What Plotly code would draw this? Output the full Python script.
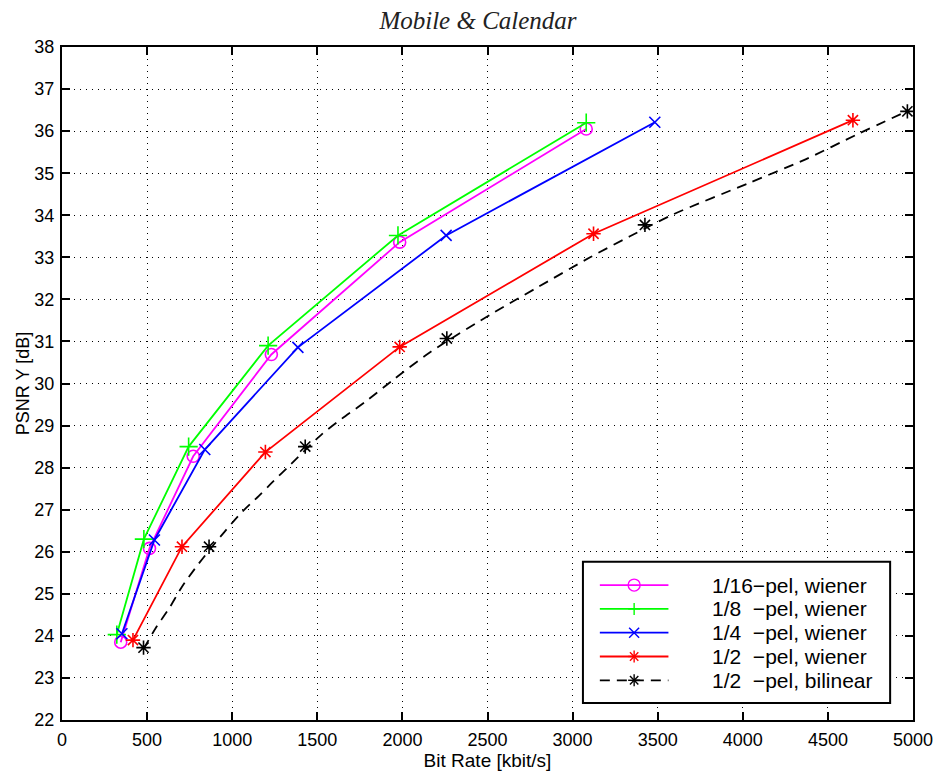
import plotly.graph_objects as go

# Rate-distortion points (bit rate in kbit/s, luma PSNR in dB)
sixteenth_x = [345, 514, 771, 1230, 1984, 3080]
sixteenth_y = [23.85, 26.08, 28.27, 30.69, 33.36, 36.05]
eighth_x = [322, 481, 744, 1211, 1974, 3080]
eighth_y = [24.03, 26.30, 28.50, 30.90, 33.52, 36.20]
quarter_x = [352, 543, 839, 1386, 2257, 3483]
quarter_y = [24.05, 26.28, 28.43, 30.86, 33.52, 36.21]
half_x = [417, 705, 1195, 1984, 3123, 4647]
half_y = [23.90, 26.12, 28.37, 30.87, 33.56, 36.26]
bil_x = [479, 864, 1429, 2261, 3425, 4967]
bil_y = [23.72, 26.12, 28.50, 31.07, 33.77, 36.47]
# smooth fitted curve drawn through the bilinear results
bil_fit_x = [479, 550, 630, 705, 785, 870, 956, 1059, 1157, 1238, 1332, 1523,
             1643, 1780, 1950, 2169, 2539, 2800, 3103, 3337, 3591, 4038, 4369,
             4681, 4953]
bil_fit_y = [23.69, 24.18, 24.66, 25.17, 25.62, 26.06, 26.48, 26.95, 27.33,
             27.66, 28.03, 28.78, 29.16, 29.56, 30.10, 30.76, 31.69, 32.30,
             33.00, 33.50, 34.02, 34.77, 35.33, 35.94, 36.45]

series_names = ["1/16\u2212pel, wiener", "1/8\u00a0\u00a0\u2212pel, wiener",
                "1/4\u00a0\u00a0\u2212pel, wiener", "1/2\u00a0\u00a0\u2212pel, wiener",
                "1/2\u00a0\u00a0\u2212pel, bilinear"]
x_ticks = list(range(0, 5001, 500))
y_ticks = list(range(22, 39))

SANS = "Liberation Sans, Arial, sans-serif"
MAGENTA, GREEN, BLUE, RED, BLACK = "#ff00ff", "#00ff00", "#0000ff", "#ff0000", "#000000"

fig = go.Figure()


def add_series(xs, ys, color, symbol, size, name):
    fig.add_trace(go.Scatter(
        x=xs, y=ys, mode="lines+markers", name=name, showlegend=False,
        line=dict(color=color, width=1.8),
        marker=dict(symbol=symbol, size=size, color=color,
                    line=dict(color=color, width=1.6)),
    ))


add_series(sixteenth_x, sixteenth_y, MAGENTA, "circle-open", 12, series_names[0])
add_series(eighth_x, eighth_y, GREEN, "cross-thin-open", 13, series_names[1])
add_series(quarter_x, quarter_y, BLUE, "x-thin-open", 11, series_names[2])
add_series(half_x, half_y, RED, "asterisk-open", 12, series_names[3])

fig.add_trace(go.Scatter(
    x=bil_fit_x, y=bil_fit_y, mode="lines", showlegend=False,
    line=dict(color=BLACK, width=1.8, dash="10px,7px", shape="spline", smoothing=0.8),
    hoverinfo="skip",
))
fig.add_trace(go.Scatter(
    x=bil_x, y=bil_y, mode="markers", name=series_names[4], showlegend=False,
    marker=dict(symbol="asterisk-open", size=12, color=BLACK,
                line=dict(color=BLACK, width=1.6)),
))

# plot-area geometry in pixels (used for the boxed key)
L, R, T, B = 62, 918, 47, 723
W, H = R - L, B - T


def px(xp):
    return (xp - L) / W


def py(yp):
    return (B - yp) / H


shapes = [dict(type="rect", xref="paper", yref="paper", layer="above",
               x0=px(586), x1=px(895), y0=py(706), y1=py(564),
               fillcolor="white", line=dict(color=BLACK, width=2))]
annotations = []

key_colors = [MAGENTA, GREEN, BLUE, RED, BLACK]
key_marks = ["circle", "plus", "x", "star", "star"]
for i, (name, col, mk) in enumerate(zip(series_names, key_colors, key_marks)):
    yc = 587.5 + 23.9 * i
    dash = "10px,7px" if i == 4 else "solid"
    shapes.append(dict(type="line", xref="paper", yref="paper", layer="above",
                       x0=px(603), x1=px(672), y0=py(yc), y1=py(yc),
                       line=dict(color=col, width=1.8, dash=dash)))
    base = dict(type="line", xref="paper", yref="paper", layer="above",
                xsizemode="pixel", ysizemode="pixel",
                xanchor=px(637.5), yanchor=py(yc), line=dict(color=col, width=1.4))
    segs = []
    if mk == "circle":
        shapes.append(dict(type="circle", xref="paper", yref="paper", layer="above",
                           xsizemode="pixel", ysizemode="pixel",
                           xanchor=px(637.5), yanchor=py(yc),
                           x0=-6, x1=6, y0=-6, y1=6,
                           line=dict(color=col, width=1.4)))
    if mk in ("plus", "star"):
        segs += [(-6, 0, 6, 0), (0, -6, 0, 6)]
    if mk in ("x", "star"):
        r = 5 if mk == "x" else 4.2
        segs += [(-r, -r, r, r), (-r, r, r, -r)]
    for (a, b, c, d) in segs:
        s = dict(base)
        s.update(x0=a, y0=b, x1=c, y1=d)
        shapes.append(s)
    annotations.append(dict(text=name, xref="paper", yref="paper",
                            x=px(714), y=py(yc), xanchor="left", yanchor="middle",
                            showarrow=False, font=dict(family=SANS, size=21, color=BLACK)))

axis_common = dict(
    showline=True, linecolor=BLACK, linewidth=2, mirror="ticks",
    ticks="inside", ticklen=8, tickwidth=1.5, tickcolor=BLACK,
    showgrid=True, gridcolor=BLACK, gridwidth=1, griddash="1px,5px",
    zeroline=False, tickfont=dict(family=SANS, size=18, color=BLACK),
)

fig.update_layout(
    width=945, height=778,
    margin=dict(l=L, r=945 - R, t=T, b=778 - B),
    paper_bgcolor="white", plot_bgcolor="white",
    title=dict(text="Mobile &amp; Calendar", xref="container", yref="container",
               x=478 / 945, y=1 - 20 / 778, xanchor="center", yanchor="middle",
               font=dict(family="Liberation Serif, Times New Roman, serif",
                         size=25, style="italic", color="#222222")),
    xaxis=dict(range=[0, 5000], tickvals=x_ticks, ticktext=[str(v) for v in x_ticks],
               title=dict(text="Bit Rate [kbit/s]", standoff=3,
                          font=dict(family=SANS, size=19, color=BLACK)),
               ticklabelstandoff=2, **axis_common),
    yaxis=dict(range=[22, 38], tickvals=y_ticks, ticktext=[str(v) for v in y_ticks],
               title=dict(text="PSNR Y [dB]", standoff=0,
                          font=dict(family=SANS, size=18, color=BLACK)),
               ticklabelstandoff=2, **axis_common),
    shapes=shapes, annotations=annotations,
    showlegend=False,
)

fig.write_html("out.html")
